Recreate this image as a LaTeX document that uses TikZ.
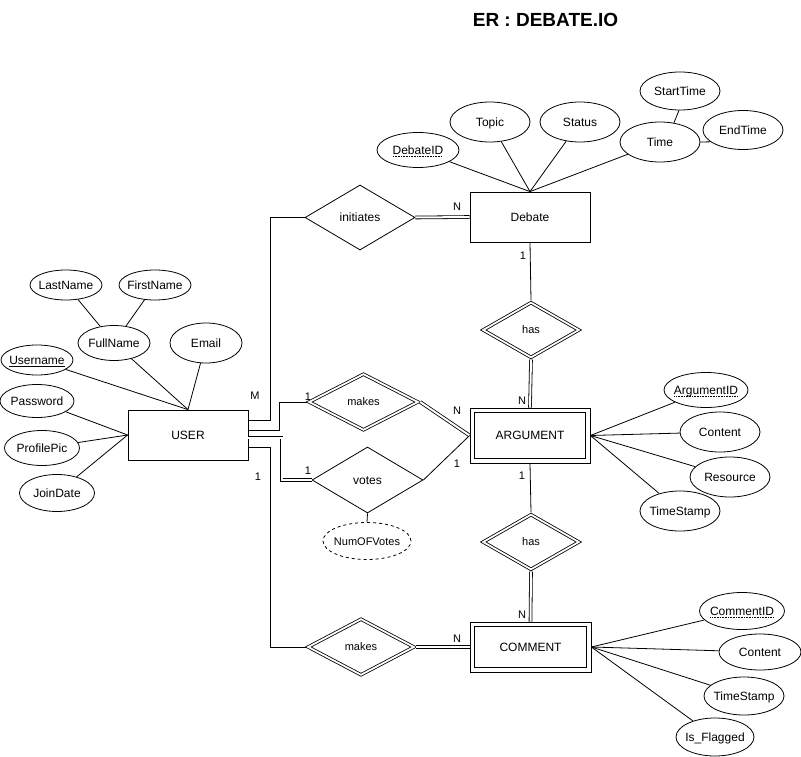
\documentclass[tikz,border=0pt]{standalone}
\usepackage{fontspec}
\setmainfont{Liberation Sans}
\usetikzlibrary{shapes.geometric,calc}

% text centred on the node with no width of its own
\newcommand\atx[1]{\makebox[0pt]{#1}}
% dotted underline for partial keys
\newcommand\keyul[1]{\setbox0\hbox{#1}\rlap{\raisebox{-2.6pt}{\hbox to \wd0{\leaders\hbox to 1.6pt{\hss\rule{0.8pt}{0.7pt}\hss}\hfill}}}\box0}

\begin{document}
\begin{tikzpicture}[x=1pt,y=-1pt,line width=0.8pt,
  every node/.style={font=\fontsize{12}{14}\selectfont, text height=8.6pt, text depth=0pt},
  ent/.style={draw, rectangle, inner sep=0pt, minimum width=120pt, minimum height=50pt},
  went/.style 2 args={draw, rectangle, inner sep=0pt, minimum width=#1pt, minimum height=#2pt},
  attr/.style 2 args={draw, ellipse, inner sep=0pt, minimum width=#1pt, minimum height=#2pt},
  rel/.style 2 args={draw, diamond, inner sep=0pt, minimum width=#1pt, minimum height=#2pt},
  wrel/.style 2 args={rel={#1}{#2}, double, double distance=1.8pt, outer sep=1.7pt,
                      font=\fontsize{11}{13}\selectfont, text height=7.9pt},
  card/.style={inner sep=0pt, font=\fontsize{11}{13}\selectfont, text height=7.9pt},
  dbl/.style={double, double distance=2pt},
]
\fill[white] (0,0) rectangle (801,757);
\useasboundingbox (0,0) rectangle (801,757);

% title
\node[font=\bfseries\fontsize{19}{22}\selectfont, text height=13.6pt] (title) at (545.5,19.5) {ER : DEBATE.IO};

% entities
\node[ent] (user) at (188,435) {USER};
\node[ent] (debate) at (530,217) {Debate};
\node[went={120}{55}] (argument) at (530,435.5) {ARGUMENT};
\node[went={121}{50}] (comment) at (530.5,647) {COMMENT};
% inner borders of the weak entities
\foreach \w in {argument,comment}
  \draw ([xshift=5pt,yshift=-5pt]\w.north west) rectangle ([xshift=-5pt,yshift=5pt]\w.south east);

% relationships
\node[rel={110}{65}] (initiates) at (360,217.5) {initiates};
\node[wrel={97}{56}] (has1) at (531,330) {has};
\node[wrel={110}{57}] (makes1) at (363.5,402) {makes};
\node[rel={111}{66}] (votes) at (367.5,480) {votes};
\node[wrel={97}{56}] (has2) at (531,542) {has};
\node[wrel={107}{57}] (makes2) at (361,647) {makes};

% Debate attributes
\node[attr={82}{35}] (did) at (418,150) {\atx{\keyul{DebateID}}};
\node[attr={80}{40}] (topic) at (490,122) {\atx{Topic}};
\node[attr={80}{40}] (status) at (580,122) {\atx{Status}};
\node[attr={80}{40}] (time) at (660,142) {\atx{Time}};
\node[attr={80}{38}] (start) at (680,91) {\atx{StartTime}};
\node[attr={80}{39}] (end) at (743,130) {\atx{EndTime}};

% USER attributes
\node[attr={72}{30}] (lastname) at (66,285) {\atx{LastName}};
\node[attr={72}{30}] (firstname) at (155,285) {\atx{FirstName}};
\node[attr={72}{35}] (fullname) at (114,343) {\atx{FullName}};
\node[attr={72}{40}] (email) at (206,343) {\atx{Email}};
\node[attr={72}{30}] (username) at (37,360) {\atx{\underline{Username}}};
\node[attr={74}{33}] (password) at (37,401) {\atx{Password}};
\node[attr={75}{35}] (profilepic) at (42,448) {\atx{ProfilePic}};
\node[attr={75}{37}] (joindate) at (57,493) {\atx{JoinDate}};

% ARGUMENT attributes
\node[attr={84}{35}] (aid) at (706,390) {\atx{\keyul{ArgumentID}}};
\node[attr={80}{40}] (acontent) at (720,432) {\atx{Content}};
\node[attr={80}{40}] (resource) at (730,477) {\atx{Resource}};
\node[attr={80}{40}] (atime) at (680,511) {\atx{TimeStamp}};

% COMMENT attributes
\node[attr={85}{37}] (cid) at (742,611) {\atx{\keyul{CommentID}}};
\node[attr={82}{36}] (ccontent) at (760,652) {\atx{Content}};
\node[attr={80}{38}] (ctime) at (744,696) {\atx{TimeStamp}};
\node[attr={78}{38}] (flag) at (715,737) {\atx{Is\_Flagged}};

% attribute of votes
\node[attr={88}{37}, dash pattern=on 3pt off 3pt] (numvotes) at (367,541) {\atx{\fontsize{11}{13}\selectfont NumOFVotes}};

% attribute links
\foreach \a in {did,topic,status,time} \draw (\a) -- (debate.north);
\draw (time.54) -- (start.-93);
\draw (time.east) -- (end.200);
\foreach \a in {username,fullname,email} \draw (\a) -- (user.north);
\foreach \a in {password,profilepic,joindate} \draw (\a) -- (user.west);
\draw (lastname) -- (fullname);
\draw (firstname) -- (fullname);
\foreach \a in {aid,acontent,resource,atime} \draw (\a) -- (argument.east);
\foreach \a in {cid,ccontent,ctime,flag} \draw (\a) -- (comment.east);
\draw (votes.south) -- (numvotes.north);

% exit points on the right side of USER
\coordinate (ua) at ([yshift=-11pt]user.north east);
\coordinate (ub) at ([yshift=-21pt]user.north east);
\coordinate (uc) at ([yshift=-28pt]user.north east);
\coordinate (ud) at ([yshift=-38pt]user.north east);

% relationship links
\draw (ua) -| ([xshift=-34pt]initiates.west) -- (initiates.west);
\draw[dbl] (initiates.east) -- (debate.west);
\draw (ub) -| ([xshift=-27pt]makes1.west) -- (makes1.west);
\draw[dbl] (makes1.east) -- (argument.west);
\draw[dbl] (uc) -| ([xshift=-30pt]votes.west) -- (votes.west);
\draw (votes.east) -- (argument.west);
\draw (ud) -| ([xshift=-35pt]makes2.west) -- (makes2.west);
\draw[dbl] (makes2.east) -- (comment.west);
\draw (debate.south) -- (has1.north);
\draw[dbl] (has1.south) -- (argument.north);
\draw (argument.south) -- (has2.north);
\draw[dbl] (has2.south) -- (comment.north);

% cardinalities
\node[card] (cM) at (255,396) {M};
\node[card] (cmk1) at (308,397) {1};
\node[card] (cmkN) at (457,411) {N};
\node[card] (cvt1a) at (457,464) {1};
\node[card] (cvt1b) at (308,471) {1};
\node[card] (cmc1) at (258,477) {1};
\node[card] (cinN) at (457,207) {N};
\node[card] (chs1) at (523,256) {1};
\node[card] (chsN) at (522,401) {N};
\node[card] (chs2) at (522,476) {1};
\node[card] (chsN2) at (522,615) {N};
\node[card] (cmcN) at (457,639) {N};
\end{tikzpicture}
\end{document}
